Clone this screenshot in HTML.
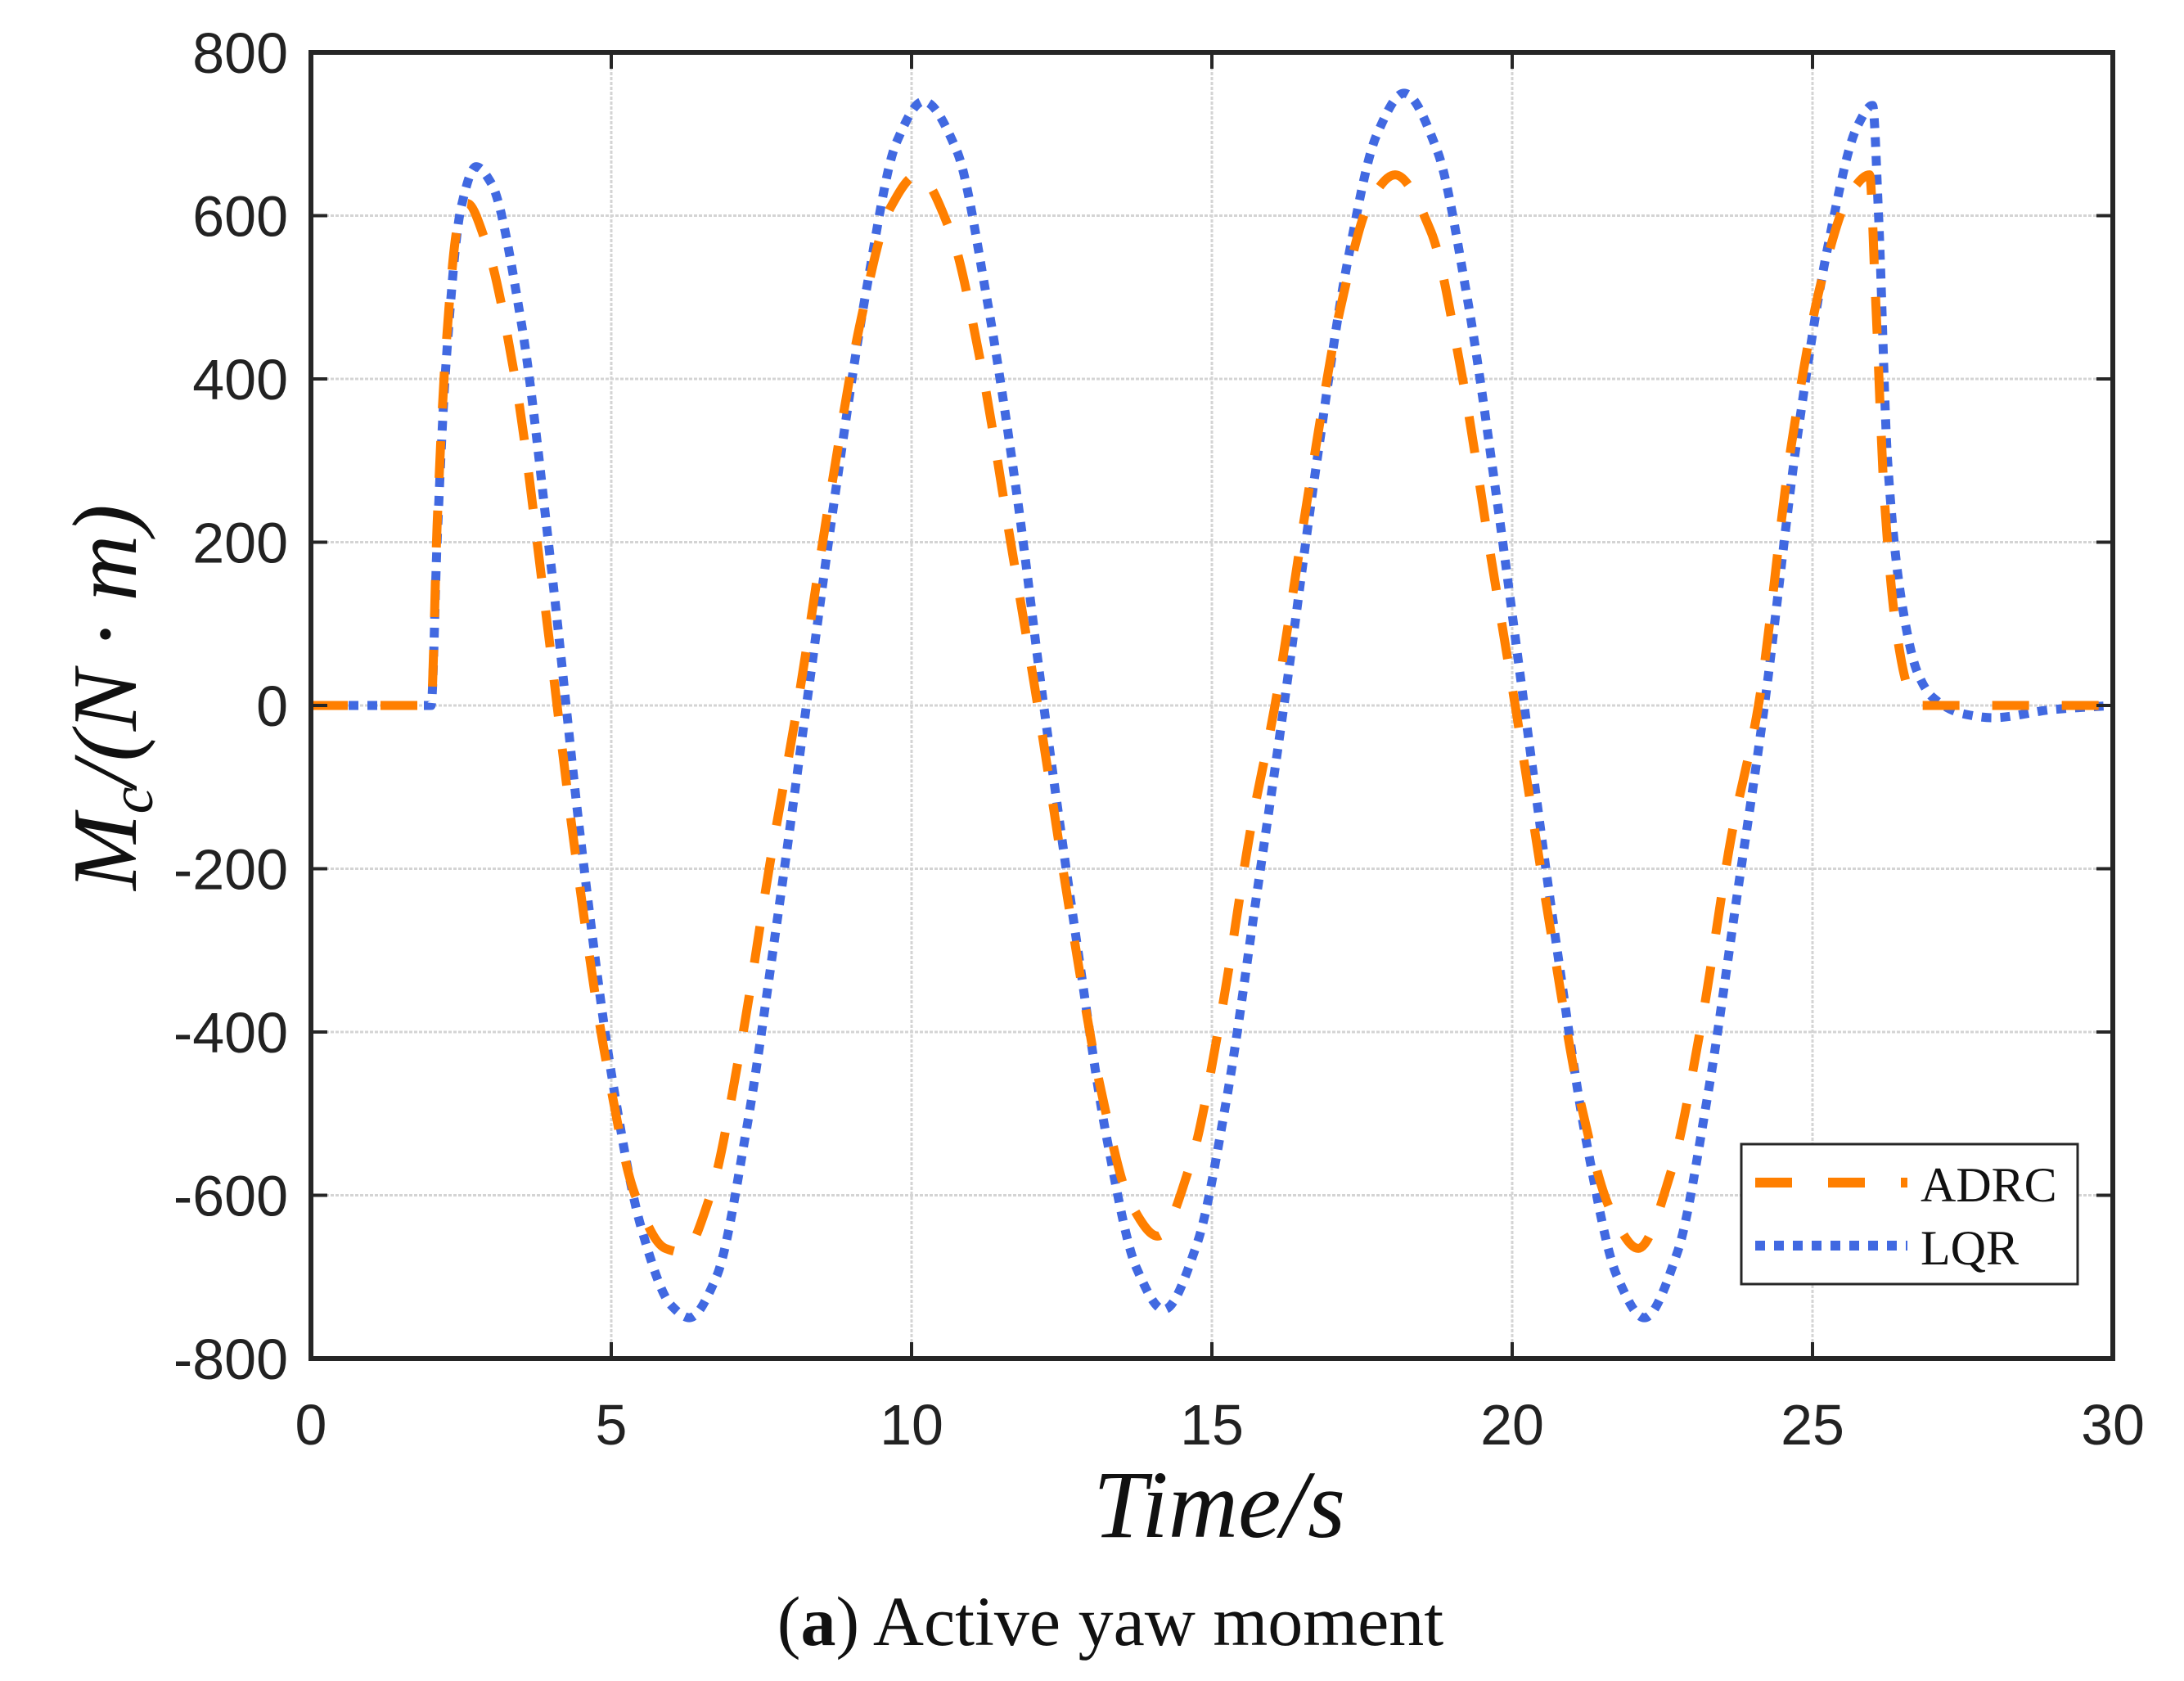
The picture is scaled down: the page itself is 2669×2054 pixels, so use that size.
<!DOCTYPE html>
<html><head><meta charset="utf-8">
<style>
html,body{margin:0;padding:0;background:#fff;}
svg{display:block;}
</style></head>
<body>
<svg id="chart" width="2669" height="2054" viewBox="0 0 2669 2054" xmlns="http://www.w3.org/2000/svg">
<rect x="0" y="0" width="2669" height="2054" fill="#fff"/>
<g id="grid"></g>
<g id="series"></g>
<g id="axes"></g>
<text x="1490" y="1878" font-family="Liberation Serif, serif" font-style="italic" font-size="118" text-anchor="middle" fill="#111">Time/s</text>
<text transform="translate(166,852) rotate(-90)" x="0" y="0" font-family="Liberation Serif, serif" font-style="italic" font-size="112" text-anchor="middle" fill="#111">M<tspan font-size="74" dy="20">c</tspan><tspan dy="-20">/(N · m)</tspan></text>
<text x="1357" y="2010" font-family="Liberation Serif, serif" font-size="86" text-anchor="middle" fill="#111">(<tspan font-weight="bold">a</tspan>) Active yaw moment</text>
<g>
<rect x="2128" y="1398" width="411" height="171" fill="#fff" stroke="#262626" stroke-width="3"/>
<line x1="2145" y1="1445" x2="2331" y2="1445" stroke="#FF7F00" stroke-width="12" stroke-dasharray="45 44"/>
<text x="2347" y="1468" font-family="Liberation Serif, serif" font-size="60" fill="#111">ADRC</text>
<line x1="2145" y1="1522" x2="2331" y2="1522" stroke="#4169E1" stroke-width="12" stroke-dasharray="12 11"/>
<text x="2347" y="1545" font-family="Liberation Serif, serif" font-size="60" fill="#111">LQR</text>
</g>
</svg>
<script>
const xTicks = [0,5,10,15,20,25,30];
const yTicks = [-800,-600,-400,-200,0,200,400,600,800];
const lqrT = [0,2,2.1,2.25,2.5,2.75,3,3.5,4,4.5,5,5.5,6,6.3,6.75,7.25,7.75,8.25,8.75,9.25,9.75,10.2,10.75,11.25,11.75,12.2,12.75,13.25,13.75,14.2,14.75,15.25,15.75,16.2,16.75,17.25,17.75,18.2,18.75,19.25,19.75,20.2,20.75,21.25,21.75,22.2,22.75,23.25,23.75,24.2,24.75,25.25,25.75,26,26.1,26.25,26.5,26.75,27,27.5,28,29,30];
const lqrV = [0,0,200,420,610,660,640,470,170,-170,-450,-640,-735,-750,-700,-520,-270,0,270,510,690,740,680,500,260,0,-290,-530,-690,-740,-660,-480,-230,0,300,540,700,750,680,500,250,0,-300,-540,-700,-750,-670,-480,-230,0,330,560,710,735,600,300,120,40,10,-10,-15,-5,0];
const adrcT = [0,2,2.1,2.25,2.45,2.6,2.9,3.4,3.9,4.4,4.9,5.4,5.9,6.2,6.65,7.15,7.65,8.1,8.65,9.15,9.65,10.1,10.65,11.15,11.65,12.1,12.65,13.15,13.65,14.1,14.65,15.15,15.65,16.05,16.65,17.15,17.65,18.05,18.65,19.15,19.65,20.05,20.65,21.15,21.65,22.1,22.65,23.15,23.65,24.1,24.65,25.15,25.65,25.95,26.05,26.2,26.4,26.6,26.8,30];
const adrcV = [0,0,220,440,590,615,570,400,120,-180,-430,-600,-665,-670,-600,-420,-190,0,260,470,610,650,580,420,200,0,-260,-470,-610,-650,-560,-380,-150,0,280,490,620,650,580,410,180,0,-280,-490,-620,-665,-570,-390,-160,0,320,520,630,650,500,250,90,20,0,0];

const NS='http://www.w3.org/2000/svg';
const L=380,R=2582,T=64,B=1660;
const xs=t=>L+(t-0)/(30-0)*(R-L);
const ys=v=>B-(v+800)/1600*(B-T);
const grid=document.getElementById('grid'),axes=document.getElementById('axes'),series=document.getElementById('series');
function mk(tag,attrs,parent){const e=document.createElementNS(NS,tag);for(const k in attrs)e.setAttribute(k,attrs[k]);parent.appendChild(e);return e;}
xTicks.forEach(t=>{
  const x=xs(t);
  if(t>0&&t<30){
    const g=mk('line',{x1:x,y1:T,x2:x,y2:B,stroke:'#d4d4d4','stroke-width':3,'stroke-dasharray':'4 2'},grid);
    
    
    const a=mk('line',{x1:x,y1:B,x2:x,y2:B-20,stroke:'#262626','stroke-width':4},axes);
    
    
    const b=mk('line',{x1:x,y1:T,x2:x,y2:T+20,stroke:'#262626','stroke-width':4},axes);
    
    
  }
  const tx=mk('text',{x:x,y:1765,'font-family':'Liberation Sans, sans-serif','font-size':70,'text-anchor':'middle',fill:'#222'},axes);
  tx.textContent=t;
  
  
});
yTicks.forEach(v=>{
  const y=ys(v);
  if(v>-800&&v<800){
    const g=mk('line',{x1:L,y1:y,x2:R,y2:y,stroke:'#d4d4d4','stroke-width':3,'stroke-dasharray':'4 2'},grid);
    
    
    const a=mk('line',{x1:L,y1:y,x2:L+20,y2:y,stroke:'#262626','stroke-width':4},axes);
    
    
    const b=mk('line',{x1:R,y1:y,x2:R-20,y2:y,stroke:'#262626','stroke-width':4},axes);
    
    
  }
  const tx=mk('text',{x:352,y:y+25,'font-family':'Liberation Sans, sans-serif','font-size':70,'text-anchor':'end',fill:'#222'},axes);
  tx.textContent=v;
  
  
});
const frame=mk('rect',{x:L,y:T,width:R-L,height:B-T,fill:'none',stroke:'#262626','stroke-width':6},axes);



// monotone cubic (Fritsch-Carlson) to avoid overshoot
function pathFrom(T_,V_){
  const n=T_.length;
  const X=T_.map(xs),Y=V_.map(ys);
  const d=[],m=new Array(n);
  for(let i=0;i<n-1;i++)d.push((Y[i+1]-Y[i])/(X[i+1]-X[i]));
  m[0]=d[0];m[n-1]=d[n-2];
  for(let i=1;i<n-1;i++){
    if(d[i-1]*d[i]<=0)m[i]=0;
    else{const w1=2*(X[i+1]-X[i])+(X[i]-X[i-1]),w2=(X[i+1]-X[i])+2*(X[i]-X[i-1]);m[i]=(w1+w2)/(w1/d[i-1]+w2/d[i]);}
  }
  let s='M'+X[0]+','+Y[0];
  for(let i=0;i<n-1;i++){
    const h=(X[i+1]-X[i])/3;
    s+=' C'+(X[i]+h)+','+(Y[i]+m[i]*h)+' '+(X[i+1]-h)+','+(Y[i+1]-m[i+1]*h)+' '+X[i+1]+','+Y[i+1];
  }
  return s;
}
const lqr=mk('path',{d:pathFrom(lqrT,lqrV),fill:'none',stroke:'#4169E1','stroke-width':11,'stroke-dasharray':'12 11'},series);


const adrc=mk('path',{d:pathFrom(adrcT,adrcV),fill:'none',stroke:'#FF7F00','stroke-width':11,'stroke-dasharray':'45 40'},series);


</script>
</body></html>
